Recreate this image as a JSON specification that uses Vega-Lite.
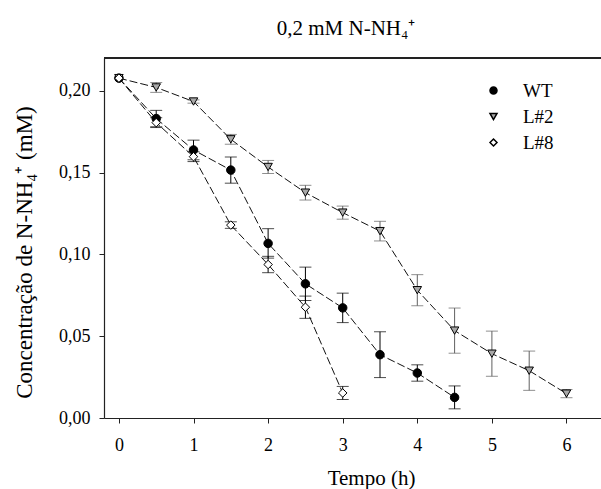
{
  "$schema": "https://vega.github.io/schema/vega-lite/v6.json",
  "width": 498,
  "height": 360,
  "autosize": {"type": "none"},
  "padding": {"left": 104, "top": 58, "right": 0, "bottom": 71},
  "background": "white",
  "config": {
    "view": {"stroke": null},
    "font": "Liberation Serif",
    "axis": {"grid": false, "domainColor": "#222", "tickColor": "#222", "labelColor": "black", "titleColor": "black", "labelFont": "Liberation Serif", "titleFont": "Liberation Serif", "titleFontWeight": "normal"},
    "legend": {"labelFont": "Liberation Serif"}
  },
  "title": {"text": "0,2 mM N-NH₄⁺", "font": "Liberation Serif", "fontSize": 21, "fontWeight": "normal", "color": "black", "offset": 18, "dx": -7},
  "data": {"values": [
    {"series": "WT", "t": 0, "v": 0.2077, "err": 0},
    {"series": "WT", "t": 0.5, "v": 0.183, "err": 0.005},
    {"series": "WT", "t": 1, "v": 0.1638, "err": 0.006},
    {"series": "WT", "t": 1.5, "v": 0.1515, "err": 0.008},
    {"series": "WT", "t": 2, "v": 0.1067, "err": 0.009},
    {"series": "WT", "t": 2.5, "v": 0.082, "err": 0.0102},
    {"series": "WT", "t": 3, "v": 0.0673, "err": 0.009},
    {"series": "WT", "t": 3.5, "v": 0.0387, "err": 0.014},
    {"series": "WT", "t": 4, "v": 0.0275, "err": 0.005},
    {"series": "WT", "t": 4.5, "v": 0.0126, "err": 0.007},
    {"series": "L#2", "t": 0, "v": 0.2077, "err": 0},
    {"series": "L#2", "t": 0.5, "v": 0.202, "err": 0.003},
    {"series": "L#2", "t": 1, "v": 0.1934, "err": 0.001},
    {"series": "L#2", "t": 1.5, "v": 0.1703, "err": 0.003},
    {"series": "L#2", "t": 2, "v": 0.1534, "err": 0.004},
    {"series": "L#2", "t": 2.5, "v": 0.1377, "err": 0.0045},
    {"series": "L#2", "t": 3, "v": 0.1255, "err": 0.004},
    {"series": "L#2", "t": 3.5, "v": 0.1142, "err": 0.006},
    {"series": "L#2", "t": 4, "v": 0.0781, "err": 0.0095},
    {"series": "L#2", "t": 4.5, "v": 0.0534, "err": 0.0138},
    {"series": "L#2", "t": 5, "v": 0.0393, "err": 0.0138},
    {"series": "L#2", "t": 5.5, "v": 0.0289, "err": 0.012},
    {"series": "L#2", "t": 6, "v": 0.0149, "err": 0.0025},
    {"series": "L#8", "t": 0, "v": 0.2077, "err": 0},
    {"series": "L#8", "t": 0.5, "v": 0.1805, "err": 0.003},
    {"series": "L#8", "t": 1, "v": 0.1597, "err": 0.003},
    {"series": "L#8", "t": 1.5, "v": 0.1179, "err": 0.002},
    {"series": "L#8", "t": 2, "v": 0.0938, "err": 0.005},
    {"series": "L#8", "t": 2.5, "v": 0.0677, "err": 0.0068},
    {"series": "L#8", "t": 3, "v": 0.0153, "err": 0.004}
  ]},
  "layer": [
    {
      "mark": {"type": "rule", "color": "#222", "strokeWidth": 1.2},
      "encoding": {"y": {"datum": 0.22, "type": "quantitative", "title": "Concentração de N-NH₄⁺ (mM)"}}
    },
    {
      "mark": {"type": "line", "color": "#111", "strokeWidth": 1, "strokeDash": [8, 3]},
      "encoding": {
        "x": {"field": "t", "type": "quantitative", "title": "Tempo (h)", "scale": {"domain": [-0.2, 6.476], "nice": false, "zero": false},
              "axis": {"values": [0, 1, 2, 3, 4, 5, 6], "format": "d", "titleFontSize": 21, "titleX": 267, "titlePadding": 13, "labelFontSize": 18, "tickSize": 5, "labelPadding": 13, "domainWidth": 1.2}},
        "y": {"field": "v", "type": "quantitative", "title": "Concentração de N-NH₄⁺ (mM)", "scale": {"domain": [0, 0.22], "nice": false, "zero": false},
              "axis": {"values": [0, 0.05, 0.1, 0.15, 0.2], "labelExpr": "replace(format(datum.value, '.2f'), '.', ',')", "titleFontSize": 23, "titleY": 194, "titlePadding": 22, "labelFontSize": 18, "tickSize": 5, "labelPadding": 9, "domainWidth": 1.2}},
        "detail": {"field": "series"},
        "order": {"field": "t"}
      }
    },
    {
      "transform": [{"filter": "datum.err > 0 && datum.series != 'L#2'"}],
      "mark": {"type": "errorbar", "ticks": {"size": 12}, "thickness": 1, "color": "#000"},
      "encoding": {
        "x": {"field": "t", "type": "quantitative", "title": "Tempo (h)"},
        "y": {"field": "v", "type": "quantitative", "title": "Concentração de N-NH₄⁺ (mM)"},
        "yError": {"field": "err"}
      }
    },
    {
      "transform": [{"filter": "datum.err > 0 && datum.series == 'L#2'"}],
      "mark": {"type": "errorbar", "ticks": {"size": 12}, "thickness": 1, "color": "#606060"},
      "encoding": {
        "x": {"field": "t", "type": "quantitative", "title": "Tempo (h)"},
        "y": {"field": "v", "type": "quantitative", "title": "Concentração de N-NH₄⁺ (mM)"},
        "yError": {"field": "err"}
      }
    },
    {
      "mark": {"type": "point", "filled": true, "strokeWidth": 1, "opacity": 1, "size": 72},
      "encoding": {
        "x": {"field": "t", "type": "quantitative", "title": "Tempo (h)"},
        "y": {"field": "v", "type": "quantitative", "title": "Concentração de N-NH₄⁺ (mM)"},
        "fill": {"field": "series", "type": "nominal", "scale": {"domain": ["WT", "L#2", "L#8"], "range": ["#000000", "#a8a8a8", "#ffffff"]},
                 "legend": {"title": null, "orient": "none", "legendX": 380, "legendY": 23, "padding": 0, "symbolSize": 49, "labelFontSize": 19, "labelOffset": 20, "rowPadding": 6, "labelColor": "black"}},
        "stroke": {"field": "series", "type": "nominal", "scale": {"domain": ["WT", "L#2", "L#8"], "range": ["#000000", "#000000", "#000000"]},
                 "legend": {"title": null, "orient": "none", "legendX": 380, "legendY": 23, "padding": 0, "symbolSize": 49, "labelFontSize": 19, "labelOffset": 20, "rowPadding": 6, "labelColor": "black"}},
        "shape": {"field": "series", "type": "nominal", "scale": {"domain": ["WT", "L#2", "L#8"], "range": ["circle", "triangle-down", "diamond"]},
                 "legend": {"title": null, "orient": "none", "legendX": 380, "legendY": 23, "padding": 0, "symbolSize": 49, "labelFontSize": 19, "labelOffset": 20, "rowPadding": 6, "labelColor": "black"}}
      }
    }
  ]
}
